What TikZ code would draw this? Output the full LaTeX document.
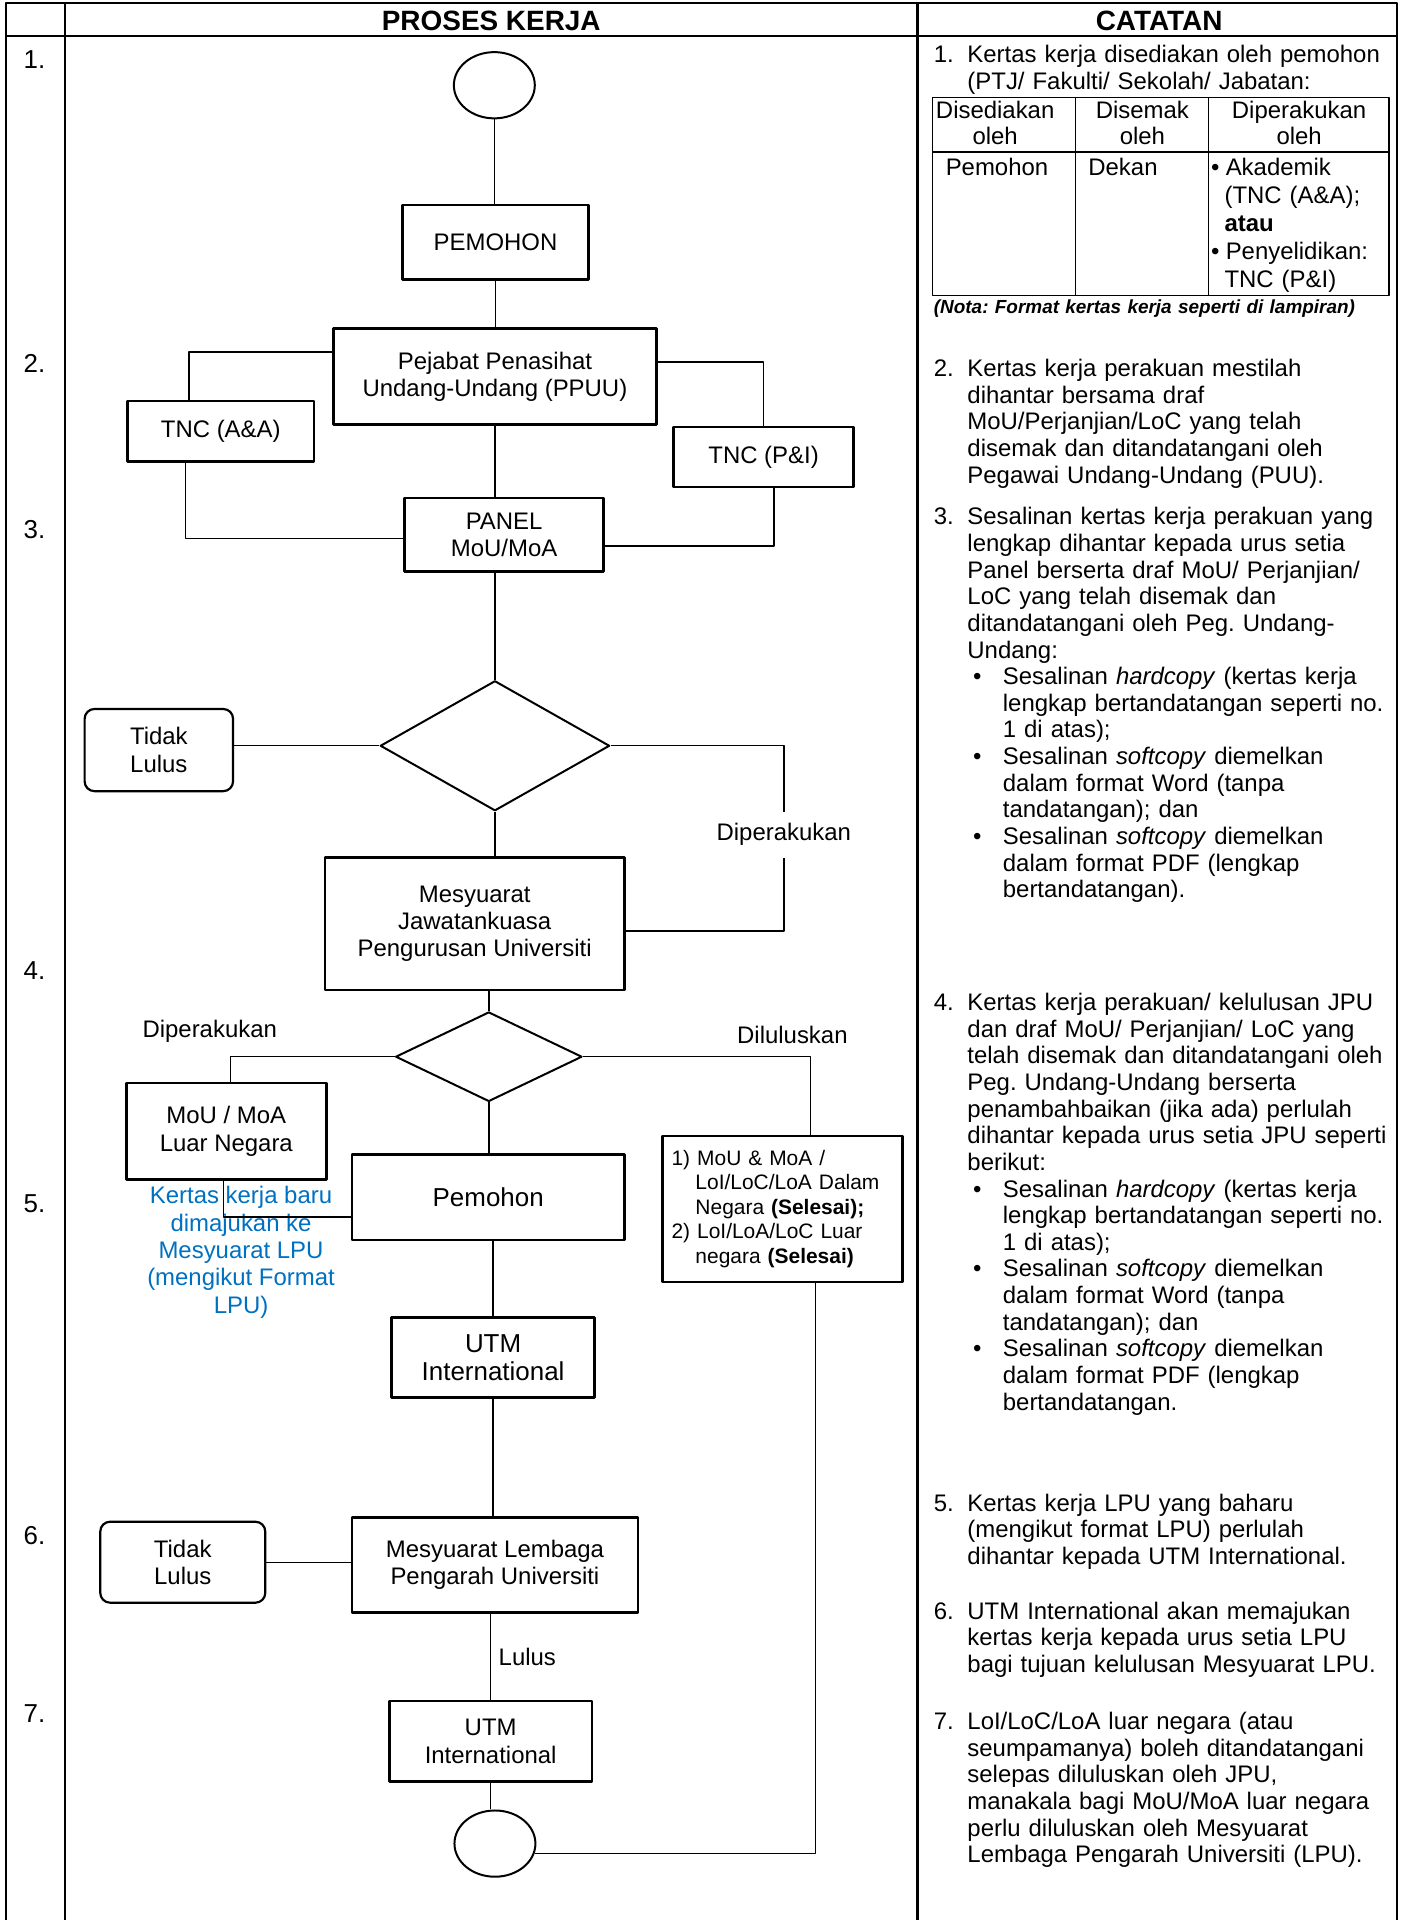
\documentclass[tikz,border=0pt]{standalone}
\usepackage{fontspec}
\setmainfont{Liberation Sans}
\usetikzlibrary{shapes.geometric,calc}
\frenchspacing
\newlength\ux
\setlength\ux{0.615pt}
\definecolor{biruteks}{RGB}{0,112,192}
\newcommand\fflow{\fontsize{12pt}{13.7pt}\selectfont}
\newcommand\fbesar{\fontsize{13pt}{14.1pt}\selectfont}
\newcommand\fkecil{\fontsize{10.5pt}{12.3pt}\selectfont}
\newcommand\fcatat{\fontsize{12pt}{13.35pt}\selectfont}
\newcommand\fjadual{\fontsize{12pt}{14.1pt}\selectfont}
\newcommand\fnota{\fontsize{9.5pt}{11pt}\selectfont\bfseries\itshape}
\newcommand\fkepala{\fontsize{14pt}{16pt}\selectfont\bfseries}
\newcommand\nom[1]{\makebox[27.4\ux][l]{#1}}
\newcommand\sbg{\hspace*{27.4\ux}}
\newcommand\titik{\hspace*{32\ux}\makebox[24.3\ux][l]{\textbullet}}
\newcommand\sbgtitik{\hspace*{56.3\ux}}
\begin{document}
\begin{tikzpicture}[x=\ux, y=-\ux, line join=round,
    garis/.style={line width=0.7pt},
    bingkai/.style={line width=1.2pt},
    kotak/.style 2 args={draw, line width=1.3pt, align=center, inner sep=0pt,
        minimum width=#1\ux, minimum height=#2\ux, font=\fflow},
    tolak/.style 2 args={kotak={#1}{#2}, rounded corners=8\ux, line width=1.1pt},
    keputusan/.style 2 args={draw, diamond, line width=1pt, inner sep=0pt,
        minimum width=#1\ux, minimum height=#2\ux},
    bulat/.style={draw, ellipse, line width=1pt, inner sep=0pt,
        minimum width=66\ux, minimum height=54\ux},
    teks/.style={font=\fflow, inner sep=0pt},
    catat/.style={font=\fcatat, inner sep=0pt, anchor=base west,
        text width=380\ux, align=left},
    nombor/.style={font=\fontsize{13pt}{15pt}\selectfont, anchor=base west, inner sep=0pt}]
  \useasboundingbox (0,0) rectangle (1143,1565.3);
  % bingkai jadual
  \draw[bingkai] (5,1565.3) -- (5,2.5) -- (1139,2.5) -- (1139,1565.3);
  \draw[bingkai] (5,29.5) -- (1139,29.5);
  \draw[bingkai] (53,2.5) -- (53,1565.3);
  \draw[bingkai] (748,2.5) -- (748,1565.3);
  \node[font=\fkepala, anchor=base] (hproses) at (400.5,24.6) {PROSES KERJA};
  \node[font=\fkepala, anchor=base] (hcatatan) at (945,24.6) {CATATAN};
  \foreach \n/\y in {1/55.5, 2/303.5, 3/439, 4/798.5, 5/988.5, 6/1259, 7/1404.5}
    \node[nombor] (n\n) at (19,\y) {\n.};
  % carta alir
  \node[bulat] (mula) at (403,69.5) {};
  \node[kotak={152}{61}] (pemohon) at (404,197.5) {PEMOHON};
  \node[kotak={263}{78}] (ppuu) at (403.5,307) {Pejabat Penasihat\\Undang-Undang (PPUU)};
  \node[kotak={152}{49}] (tncaa) at (180,351.5) {TNC (A\&A)};
  \node[kotak={147}{49}] (tncpi) at (622.5,372.5) {TNC (P\&I)};
  \node[kotak={162}{60}] (panel) at (411,436) {PANEL\\MoU/MoA};
  \node[keputusan={187}{106}] (semak1) at (403.5,608) {};
  \node[tolak={121}{67}] (tidak1) at (129.5,611.5) {Tidak\\Lulus};
  \node[teks, minimum height=37\ux] (perakuan1) at (639,680.5) {Diperakukan};
  \node[kotak={244}{108}] (jpu) at (387,753) {Mesyuarat\\Jawatankuasa\\Pengurusan Universiti};
  \node[keputusan={152}{73}] (semak2) at (398.5,861.5) {};
  \node[teks] (perakuan2) at (171,841) {Diperakukan};
  \node[teks] (lulus1) at (646,844) {Diluluskan};
  \node[kotak={163}{78.6}] (luar) at (184.5,922.3) {MoU / MoA\\Luar Negara};
  \node[kotak={196}{119}, text width=181\ux, align=left, inner xsep=7.5\ux, font=\fkecil] (selesai) at (638,985.5)
    {1) MoU \& MoA /\\\hspace*{19.5\ux}LoI/LoC/LoA Dalam\\\hspace*{19.5\ux}Negara \textbf{(Selesai);}\\2) LoI/LoA/LoC Luar\\\hspace*{19.5\ux}negara \textbf{(Selesai)}};
  \node[kotak={222}{70}, font=\fbesar] (pemohon2) at (398,976) {Pemohon};
  \node[teks, text=biruteks, align=center] (baru) at (196.5,1021)
    {Kertas kerja baru\\dimajukan ke\\Mesyuarat LPU\\(mengikut Format\\LPU)};
  \node[kotak={165.5}{65.5}, font=\fbesar] (utm1) at (402,1106.8) {UTM\\International};
  \node[kotak={233}{77.5}] (lpu) at (403.5,1275.8) {Mesyuarat Lembaga\\Pengarah Universiti};
  \node[tolak={134.5}{66}] (tidak2) at (149,1273.6) {Tidak\\Lulus};
  \node[kotak={165.4}{65.7}] (utm2) at (400,1419.6) {UTM\\International};
  \node[bulat] (tamat) at (403.5,1503) {};
  % penyambung
  \draw[garis] (mula.south) -- (mula.south |- pemohon.north);
  \draw[garis] (pemohon.south) -- (pemohon.south |- ppuu.north);
  \draw[garis] (ppuu.south) -- (ppuu.south |- panel.north);
  \draw[garis] ($(ppuu.west)+(0,-20)$) -| ($(tncaa.north)+(-26,0)$);
  \draw[garis] ($(ppuu.east)+(0,-12)$) -| (tncpi.north);
  \draw[garis] ($(tncaa.south)+(-29,0)$) |- ($(panel.west)+(0,3)$);
  \draw[garis] ($(tncpi.south)+(8.5,0)$) |- ($(panel.east)+(0,9)$);
  \draw[garis] (semak1.north |- panel.south) -- (semak1.north);
  \draw[garis] (semak1.west) -- (semak1.west -| tidak1.east);
  \draw[garis] (semak1.east) -| (perakuan1.north);
  \draw[garis] (perakuan1.south) |- ($(jpu.east)+(0,6)$);
  \draw[garis] (semak1.south) -- (semak1.south |- jpu.north);
  \draw[garis] (semak2.north |- jpu.south) -- (semak2.north);
  \draw[garis] (semak2.west) -| ($(luar.north)+(3.5,0)$);
  \draw[garis] (semak2.east) -| ($(selesai.north)+(23,0)$);
  \draw[garis] (semak2.south) -- (semak2.south |- pemohon2.north);
  \draw[garis] ($(luar.south)+(-2.5,0)$) |- ($(pemohon2.west)+(0,16)$);
  \draw[garis] (utm1.north |- pemohon2.south) -- (utm1.north);
  \draw[garis] (utm1.south) -- (utm1.south |- lpu.north);
  \draw[garis] (tidak2.east -| lpu.west) -- (tidak2.east);
  \draw[garis] (utm2.north |- lpu.south) -- (utm2.north)
    node[midway, anchor=west, xshift=6\ux, teks] (lulus) {Lulus};
  \draw[garis] (utm2.south) -- (utm2.south |- tamat.north);
  \draw[garis] ($(selesai.south)+(27,0)$) |- (tamat.-14);
  % catatan
  \node[catat] (c1) at (761,51) {\nom{1.}Kertas kerja disediakan oleh pemohon\\\sbg(PTJ/ Fakulti/ Sekolah/ Jabatan:};
  \draw[line width=0.85pt] (760.3,79.4) rectangle (1132.3,241);
  \draw[line width=0.85pt] (876.7,79.4) -- (876.7,241) (985.3,79.4) -- (985.3,241)
    (760.3,123.8) -- (1132.3,123.8);
  \node[catat, text width=101.4\ux, align=center] (j11) at (760.3,96.4) {Disediakan\\oleh};
  \node[catat, text width=108.6\ux, align=center] (j12) at (876.7,96.4) {Disemak\\oleh};
  \node[catat, text width=147\ux, align=center] (j13) at (985.3,96.4) {Diperakukan\\oleh};
  \node[catat] (j21) at (770.7,143) {Pemohon};
  \node[catat] (j22) at (887,143) {Dekan};
  \node[catat, font=\fjadual] (j23) at (987,143)
    {\makebox[12\ux][l]{\textbullet}Akademik\\\hspace*{11\ux}(TNC (A\&A);\\\hspace*{11\ux}\textbf{atau}\\\makebox[12\ux][l]{\textbullet}Penyelidikan:\\\hspace*{11\ux}TNC (P\&I)};
  \node[catat, font=\fnota] (nota) at (761,255.7) {(Nota: Format kertas kerja seperti di lampiran)};
  \node[catat] (c2) at (761,307) {\nom{2.}Kertas kerja perakuan mestilah\\
    \sbg dihantar bersama draf\\
    \sbg MoU/Perjanjian/LoC yang telah\\
    \sbg disemak dan ditandatangani oleh\\
    \sbg Pegawai Undang-Undang (PUU).};
  \node[catat] (c3) at (761,428) {\nom{3.}Sesalinan kertas kerja perakuan yang\\
    \sbg lengkap dihantar kepada urus setia\\
    \sbg Panel berserta draf MoU/ Perjanjian/\\
    \sbg LoC yang telah disemak dan\\
    \sbg ditandatangani oleh Peg. Undang-\\
    \sbg Undang:\\
    \titik Sesalinan \textit{hardcopy} (kertas kerja\\
    \sbgtitik lengkap bertandatangan seperti no.\\
    \sbgtitik 1 di atas);\\
    \titik Sesalinan \textit{softcopy} diemelkan\\
    \sbgtitik dalam format Word (tanpa\\
    \sbgtitik tandatangan); dan\\
    \titik Sesalinan \textit{softcopy} diemelkan\\
    \sbgtitik dalam format PDF (lengkap\\
    \sbgtitik bertandatangan).};
  \node[catat] (c4) at (761,824) {\nom{4.}Kertas kerja perakuan/ kelulusan JPU\\
    \sbg dan draf MoU/ Perjanjian/ LoC yang\\
    \sbg telah disemak dan ditandatangani oleh\\
    \sbg Peg. Undang-Undang berserta\\
    \sbg penambahbaikan (jika ada) perlulah\\
    \sbg dihantar kepada urus setia JPU seperti\\
    \sbg berikut:\\
    \titik Sesalinan \textit{hardcopy} (kertas kerja\\
    \sbgtitik lengkap bertandatangan seperti no.\\
    \sbgtitik 1 di atas);\\
    \titik Sesalinan \textit{softcopy} diemelkan\\
    \sbgtitik dalam format Word (tanpa\\
    \sbgtitik tandatangan); dan\\
    \titik Sesalinan \textit{softcopy} diemelkan\\
    \sbgtitik dalam format PDF (lengkap\\
    \sbgtitik bertandatangan.};
  \node[catat] (c5) at (761,1232) {\nom{5.}Kertas kerja LPU yang baharu\\
    \sbg(mengikut format LPU) perlulah\\
    \sbg dihantar kepada UTM International.};
  \node[catat] (c6) at (761,1320) {\nom{6.}UTM International akan memajukan\\
    \sbg kertas kerja kepada urus setia LPU\\
    \sbg bagi tujuan kelulusan Mesyuarat LPU.};
  \node[catat] (c7) at (761,1410) {\nom{7.}LoI/LoC/LoA luar negara (atau\\
    \sbg seumpamanya) boleh ditandatangani\\
    \sbg selepas diluluskan oleh JPU,\\
    \sbg manakala bagi MoU/MoA luar negara\\
    \sbg perlu diluluskan oleh Mesyuarat\\
    \sbg Lembaga Pengarah Universiti (LPU).};
\end{tikzpicture}
\end{document}
